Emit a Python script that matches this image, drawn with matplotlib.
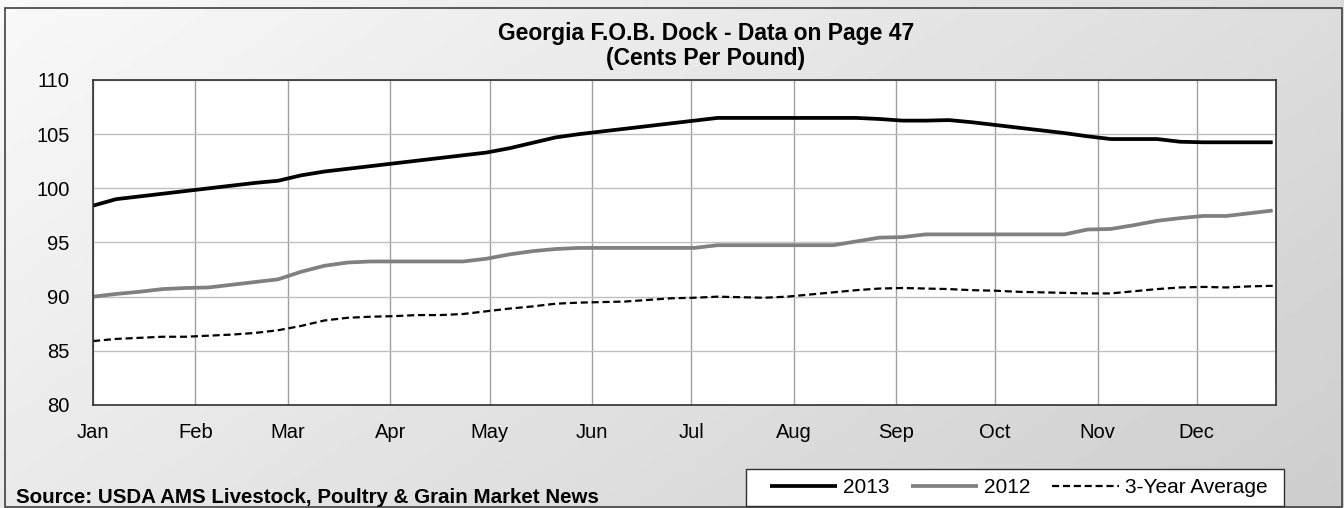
import matplotlib
matplotlib.use("Agg")
import matplotlib.pyplot as plt
import matplotlib.dates as mdates
import numpy as np

plt.rcParams['font.family'] = ['Liberation Sans', 'DejaVu Sans']

# weekly observations, first week of Jan through the last week of Dec
weeks = np.arange(np.datetime64('2013-01-01'), np.datetime64('2013-12-25'), np.timedelta64(7, 'D'))

y2013 = [98.4, 99.0, 99.25, 99.5, 99.75, 100.0, 100.25, 100.5, 100.7, 101.2,
         101.55, 101.8, 102.05, 102.3, 102.55, 102.8, 103.05, 103.3, 103.7, 104.2,
         104.7, 105.0, 105.25, 105.5, 105.75, 106.0, 106.25, 106.5, 106.5, 106.5,
         106.5, 106.5, 106.5, 106.5, 106.4, 106.25, 106.25, 106.3, 106.1, 105.85,
         105.6, 105.35, 105.1, 104.8, 104.55, 104.55, 104.55, 104.3, 104.25, 104.25,
         104.25, 104.25]

y2012 = [90.0, 90.25, 90.45, 90.7, 90.8, 90.85, 91.1, 91.35, 91.6, 92.3,
         92.85, 93.15, 93.25, 93.25, 93.25, 93.25, 93.25, 93.5, 93.9, 94.2,
         94.4, 94.5, 94.5, 94.5, 94.5, 94.5, 94.5, 94.75, 94.75, 94.75,
         94.75, 94.75, 94.75, 95.1, 95.45, 95.5, 95.75, 95.75, 95.75, 95.75,
         95.75, 95.75, 95.75, 96.2, 96.25, 96.6, 97.0, 97.25, 97.45, 97.45,
         97.7, 97.95]

avg3 = [85.9, 86.1, 86.2, 86.3, 86.3, 86.4, 86.5, 86.65, 86.9, 87.3,
        87.8, 88.05, 88.15, 88.2, 88.3, 88.3, 88.4, 88.65, 88.9, 89.1,
        89.35, 89.45, 89.5, 89.55, 89.7, 89.85, 89.9, 90.0, 89.95, 89.9,
        90.0, 90.2, 90.4, 90.6, 90.75, 90.8, 90.75, 90.7, 90.6, 90.55,
        90.45, 90.4, 90.35, 90.3, 90.3, 90.5, 90.7, 90.85, 90.9, 90.85,
        90.95, 91.0]

W, H = 1344, 508
fig = plt.figure(figsize=(W / 100, H / 100), dpi=100)

# gray gradient background + outer border (pixel coords)
bg = fig.add_axes([0, 0, 1, 1], zorder=-2)
gx, gy = np.meshgrid(np.linspace(0, 1, 300), np.linspace(0, 1, 120))
shade = 0.975 - 0.17 * (0.65 * gx + 0.35 * gy)
bg.imshow(shade, cmap='gray', vmin=0, vmax=1, aspect='auto', extent=[0, W, H, 0])
bg.set_xlim(0, W)
bg.set_ylim(H, 0)
bg.axis('off')
bg.add_patch(plt.Rectangle((5, 8), 1337, 499, fill=False, edgecolor='#404040', lw=1.2))
# legend box
bg.add_patch(plt.Rectangle((746, 469), 538, 37, facecolor='white', edgecolor='#303030', lw=1.0))

ax = fig.add_axes([93 / W, 1 - 405 / H, 1183 / W, 325 / H])
ax.set_facecolor('white')

ax.plot(weeks, y2013, color='black', lw=2.7, label='2013', solid_capstyle='butt')
ax.plot(weeks, y2012, color='#808080', lw=2.7, label='2012', solid_capstyle='butt')
ax.plot(weeks, avg3, color='black', lw=1.6, ls=(0, (3.2, 1.7)), label='3-Year Average')

ax.set_ylim(80, 110)
ax.set_yticks(range(80, 111, 5))
ax.set_xlim(np.datetime64('2013-01-01'), np.datetime64('2013-12-25'))
ax.xaxis.set_major_locator(mdates.MonthLocator())
ax.xaxis.set_major_formatter(mdates.DateFormatter('%b'))

ax.grid(axis='y', color='#c0c0c0', lw=1)
ax.grid(axis='x', color='#a0a0a0', lw=1)
ax.set_axisbelow(True)
ax.tick_params(length=0, labelsize=14.5)
ax.tick_params(axis='y', pad=17)
ax.tick_params(axis='x', pad=13)
for s in ax.spines.values():
    s.set_color('#303030')
    s.set_linewidth(1.2)

fig.text(706 / W, 1 - 40 / H, 'Georgia F.O.B. Dock - Data on Page 47',
         ha='center', va='baseline', fontsize=16.5, fontweight='bold')
fig.text(706 / W, 1 - 65 / H, '(Cents Per Pound)',
         ha='center', va='baseline', fontsize=16.5, fontweight='bold')

fig.text(16 / W, 1 - 503 / H, 'Source: USDA AMS Livestock, Poultry & Grain Market News',
         ha='left', va='baseline', fontsize=14.8, fontweight='bold')

leg = fig.legend(loc='center left', bbox_to_anchor=(770 / W, 1 - 487.5 / H), ncol=3,
                 fontsize=15, frameon=False, handlelength=3.2, handletextpad=0.3,
                 columnspacing=1.05, borderpad=0, borderaxespad=0)

fig.savefig('out.png', dpi=100)
